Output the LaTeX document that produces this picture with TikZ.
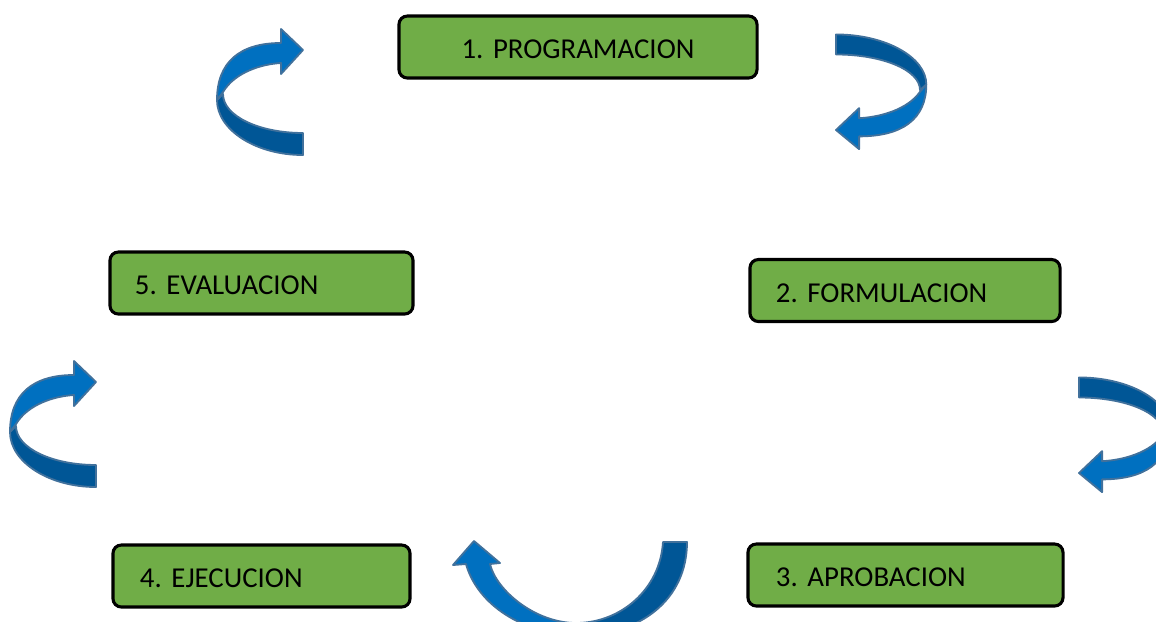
\documentclass[tikz,border=0pt]{standalone}
\usepackage{fontspec}
\setmainfont{Carlito}
\usepackage{tikz}
\usetikzlibrary{positioning}
\definecolor{boxgreen}{RGB}{112,173,71}
\definecolor{arrowlight}{RGB}{0,112,192}
\definecolor{arrowdark}{RGB}{0,86,150}
\definecolor{arrowedge}{RGB}{65,113,156}

\tikzset{
  stepbox/.style={draw=black, fill=boxgreen, line width=2.2pt, rounded corners=6pt,
    minimum height=1.55cm, text height=17pt, text depth=0pt, align=left,
    font=\fontsize{20.5}{24}\selectfont\frenchspacing},
  darkband/.style={fill=arrowdark, draw=arrowedge, line width=1.3pt, line join=round},
  lightband/.style={fill=arrowlight, draw=arrowedge, line width=1.3pt, line join=round}
}

% bent ribbon arrow: tip at the origin, head along +x, tail below
\newcommand{\bendarrow}{%
  \filldraw[darkband] (0,105) .. controls (-47,105) and (-86,80) .. (-86,50)
    -- (-80,44) .. controls (-80,66) and (-44,83) .. (0,83) -- cycle;
  \filldraw[lightband] (-86,50) .. controls (-86,12) and (-63,-7) .. (-22,-7)
    -- (-22,-21) -- (0,0) -- (-22,24) -- (-22,13)
    .. controls (-41,14) and (-68,22) .. (-80,42) -- cycle;
}

\begin{document}
\begin{tikzpicture}[x=0.025cm, y=-0.025cm]
  \useasboundingbox (0,0) rectangle (1156,621);
  \clip (0,0) rectangle (1156,621);

  % the five steps
  \node[stepbox, align=center, text width=7.95cm, inner xsep=0.5cm] (prog) at (578,47) {1. PROGRAMACION};
  \node[stepbox, text width=6.45cm, inner xsep=0.65cm] (form) at (905,290.5) {2. FORMULACION};
  \node[stepbox, text width=6.475cm, inner xsep=0.7cm] (aprob) at (905.5,575) {3. APROBACION};
  \node[stepbox, text width=6.075cm, inner xsep=0.675cm] (ejec) at (261.5,576) {4. EJECUCION};
  \node[stepbox, text width=6.325cm, inner xsep=0.625cm] (eval) at (261.5,283) {5. EVALUACION};

  % curved arrows
  \begin{scope}[shift={(303,50)}]
    \bendarrow
  \end{scope}
  \begin{scope}[shift={(96,382)}]
    \bendarrow
  \end{scope}
  \begin{scope}[shift={(836,130)}, rotate=180, xscale=1.05, yscale=0.91]
    \bendarrow
  \end{scope}
  \begin{scope}[shift={(1079,473)}, rotate=180, xscale=1.05, yscale=0.91]
    \bendarrow
  \end{scope}

  % bottom arrow, 3 -> 4
  \filldraw[darkband] (687,542) .. controls (687,600) and (640,636) .. (575,636)
    -- (576,623) .. controls (620,623) and (660,590) .. (663,542) -- cycle;
  \filldraw[lightband] (575,636) .. controls (515,632) and (476,600) .. (466,564)
    -- (453,565) -- (474,541) -- (500,563) -- (490,564)
    .. controls (496,590) and (535,623) .. (576,623) -- cycle;
\end{tikzpicture}
\end{document}
